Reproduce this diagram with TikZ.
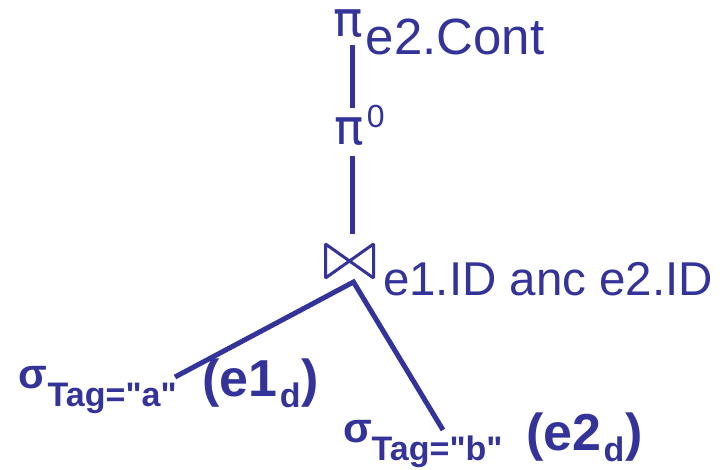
\documentclass[tikz,border=0pt]{standalone}
\usepackage{fontspec}
\setmainfont{Liberation Sans}[Ligatures=TeXOff]
\newfontfamily\greekfont{DejaVu Sans}
\usepackage{tikz}
\usetikzlibrary{positioning}
\definecolor{opblue}{RGB}{51,51,153}
\tikzset{
  op/.style={inner sep=0pt,outer sep=0pt,text=opblue,font=\greekfont\fontsize{49}{49}\selectfont},
  attr/.style={inner sep=0pt,outer sep=0pt,text=opblue,font=\fontsize{51}{51}\selectfont},
  supr/.style={inner sep=0pt,outer sep=0pt,text=opblue,font=\fontsize{32}{32}\selectfont},
  cond/.style={inner sep=0pt,outer sep=0pt,text=opblue,font=\fontsize{47.5}{47.5}\selectfont},
  sel/.style={inner sep=0pt,outer sep=0pt,text=opblue,font=\bfseries\fontsize{52}{52}\selectfont},
  joinbox/.style={inner sep=0pt,outer sep=0pt,minimum width=48pt,minimum height=34pt},
  bowtie/.style={opblue,line width=3pt,line join=bevel},
  edge/.style={opblue,line width=5pt},
}
\newcommand{\seltag}[2]{\raisebox{8pt}{\fontsize{42}{42}\selectfont σ}%
  \raisebox{-10pt}{\fontsize{34}{34}\selectfont Tag="#1"}\hspace{#2}}
\newcommand{\dsub}{\hspace{2pt}\raisebox{-11pt}{\fontsize{34}{34}\selectfont d}\hspace{1pt}}

\begin{document}
\begin{tikzpicture}[x=1pt,y=-1pt]
  \useasboundingbox (0,0) rectangle (720,470);
  \node[op,anchor=base] (proj) at (348,37) {π};
  \node[attr,base right=3pt of proj,yshift=-18pt] (projattr) {e2.Cont};
  \node[op,anchor=base] (proj0) at (349,145) {π};
  \node[supr,base right=3pt of proj0,yshift=17pt] (proj0sup) {0};
  \node[joinbox] (join) at (349.5,261) {};
  \node[cond,anchor=base west] (joincond) at (383,296) {e1.ID anc e2.ID};
  \node[sel,anchor=base west] (sel1) at (19,396) {\seltag{a}{26pt}(e1\dsub)};
  \node[sel,anchor=base west] (sel2) at (343,450) {\seltag{b}{24pt}(e2\dsub)};
  \coordinate (tip1) at (175,377);
  \coordinate (tip2) at (443,430);
  \draw[bowtie] (join.north west) -- (join.south east) -- (join.north east)
    -- (join.south west) -- cycle;
  \draw[edge,shorten <=7pt,shorten >=10pt] ([xshift=4pt]proj.south) -- ([xshift=3pt]proj0.north);
  \draw[edge,shorten <=10pt,shorten >=10pt] ([xshift=3pt]proj0.south) -- ([xshift=2.5pt]join.north);
  \draw[edge] (tip1) -- ([shift={(4,4)}]join.south) -- (tip2);
\end{tikzpicture}
\end{document}
